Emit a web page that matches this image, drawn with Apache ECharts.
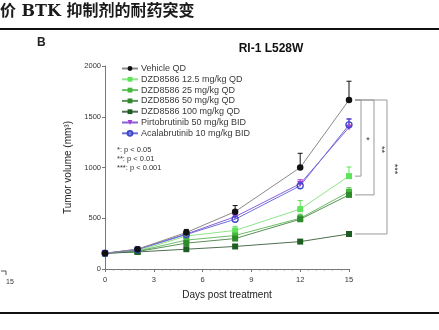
<!DOCTYPE html>
<html><head><meta charset="utf-8">
<script src="https://cdn.jsdelivr.net/npm/echarts@6/dist/echarts.min.js"></script>
<style>html,body{margin:0;padding:0;background:#fff}#c{width:439px;height:330px}</style>
</head><body><div id="c"></div>
<script>
const days = [0, 2, 5, 8, 12, 15];
const xTicks = [0, 3, 6, 9, 12, 15];
const yTicks = [0, 500, 1000, 1500, 2000];
const names = ['Vehicle QD', 'DZD8586 12.5 mg/kg QD', 'DZD8586 25 mg/kg QD', 'DZD8586 50 mg/kg QD', 'DZD8586 100 mg/kg QD', 'Pirtobrutinib 50 mg/kg BID', 'Acalabrutinib 10 mg/kg BID'];
const vehicle   = [155, 195, 360, 565, 1000, 1665];
const dzd12_5   = [155, 178, 325, 380, 590, 915];
const dzd25     = [155, 175, 285, 330, 500, 760];
const dzd50     = [155, 172, 255, 300, 490, 730];
const dzd100    = [155, 168, 195, 222, 270, 345];
const pirto     = [155, 195, 345, 515, 840, 1395];
const acala     = [155, 190, 340, 490, 820, 1420];
const errVehicle = [8, 12, 30, 60, 140, 185];
const err12_5    = [8, 10, 35, 40, 85, 90];
const err25      = [8, 10, 30, 35, 40, 40];
const err50      = [8, 10, 25, 30, 35, 35];
const err100     = [8, 8, 15, 15, 15, 15];
const errPirto   = [8, 10, 25, 30, 40, 80];
const errAcala   = [8, 10, 25, 30, 40, 60];
const sigLabels = ['*', '**', '***'];
const sigNotes = ['*: p < 0.05', '**: p < 0.01', '***: p < 0.001'];

const values = [vehicle, dzd12_5, dzd25, dzd50, dzd100, pirto, acala];
const errs = [errVehicle, err12_5, err25, err50, err100, errPirto, errAcala];
const colors = ['#111111', '#5fe35a', '#46b83d', '#2f8a2c', '#1f5e22', '#a43fd6', '#3d47c9'];
const lineColors = ['#8a8a8a', '#8fe58a', '#6cbf66', '#5c8f5a', '#4f6f50', '#8b5fd6', '#6a72d8'];
const symbols = ['circle', 'rect', 'rect', 'rect', 'rect', 'triangle', 'circle'];

const chart = echarts.init(document.getElementById('c'), null, {renderer: 'canvas'});
const series = [];
names.forEach((n, i) => {
  series.push({
    name: n, type: 'line', z: i === 0 ? 5 : 3, clip: false,
    data: days.map((d, k) => [d, values[i][k]]),
    symbol: symbols[i], symbolSize: i === 0 ? 6.5 : 6, symbolRotate: i === 5 ? 180 : 0,
    itemStyle: {color: i === 6 ? 'rgba(0,0,0,0)' : colors[i], borderColor: colors[i], borderWidth: i === 6 ? 1.3 : 0},
    lineStyle: {color: lineColors[i], width: 1},
    emphasis: {disabled: true}
  });
  series.push({
    type: 'custom', z: 2, silent: true,
    data: days.map((d, k) => [d, values[i][k], values[i][k] + errs[i][k]]),
    renderItem: (params, api) => {
      const p0 = api.coord([api.value(0), api.value(1)]);
      const p1 = api.coord([api.value(0), api.value(2)]);
      return {type: 'group', children: [
        {type: 'line', shape: {x1: p0[0], y1: p0[1], x2: p1[0], y2: p1[1]}, style: {stroke: colors[i], lineWidth: 1}},
        {type: 'line', shape: {x1: p1[0] - 2.5, y1: p1[1], x2: p1[0] + 2.5, y2: p1[1]}, style: {stroke: colors[i], lineWidth: 1}}
      ]};
    }
  });
});

const option = {
  animation: false,
  backgroundColor: '#fff',
  title: {text: 'RI-1 L528W', left: 266, top: 38, textAlign: 'center',
    textStyle: {fontFamily: 'Liberation Sans', fontWeight: 'bold', fontSize: 12, color: '#111'}},
  legend: {
    data: names, orient: 'vertical', left: 116, top: 59, itemGap: 1.8, itemWidth: 16, itemHeight: 6,
    textStyle: {fontFamily: 'Liberation Sans', fontSize: 9, color: '#3a3a3a', padding: [0, 0, 0, -2]},
    selectedMode: false
  },
  grid: {left: 105, right: 90, top: 66, bottom: 61},
  xAxis: {
    type: 'value', min: 0, max: 15, interval: 3,
    name: 'Days post treatment', nameLocation: 'middle', nameGap: 21,
    nameTextStyle: {fontFamily: 'Liberation Sans', fontSize: 10, color: '#222'},
    axisLine: {lineStyle: {color: '#777', width: 1}},
    axisTick: {show: true, length: 3, lineStyle: {color: '#777'}},
    minorTick: {show: true, splitNumber: 6, length: 1.5, lineStyle: {color: '#888'}},
    axisLabel: {fontFamily: 'Liberation Sans', fontSize: 7.5, color: '#333', margin: 7,
      formatter: v => xTicks.includes(v) ? String(v) : ''},
    splitLine: {show: false}
  },
  yAxis: {
    type: 'value', min: 0, max: 2000, interval: 500,
    name: 'Tumor volume (mm³)', nameLocation: 'middle', nameGap: 28,
    nameTextStyle: {fontFamily: 'Liberation Sans', fontSize: 10, color: '#222'},
    axisLine: {show: true, lineStyle: {color: '#777', width: 1}},
    axisTick: {show: true, length: 3, lineStyle: {color: '#777'}},
    axisLabel: {fontFamily: 'Liberation Sans', fontSize: 7.5, color: '#333', margin: 4,
      formatter: v => yTicks.includes(v) ? String(v) : ''},
    splitLine: {show: false}
  },
  series: series
};
chart.setOption(option);

// significance brackets from data coordinates
const lastDay = days[days.length - 1];
const topPt = chart.convertToPixel({gridIndex: 0}, [lastDay, vehicle[vehicle.length - 1]]);
const targets = [dzd12_5, dzd50, dzd100];
const bx = [361, 374, 387];
const g = [];
targets.forEach((t, j) => {
  const b = chart.convertToPixel({gridIndex: 0}, [lastDay, t[t.length - 1]]);
  const x0 = topPt[0] + 6;
  g.push({type: 'polyline', shape: {points: [[x0, topPt[1]], [bx[j], topPt[1]], [bx[j], b[1]], [x0, b[1]]]},
    style: {stroke: '#999', lineWidth: 1, fill: null}});
  g.push({type: 'text', x: bx[j] + 7, y: (topPt[1] + b[1]) / 2 + 2, rotation: j === 0 ? 0 : -Math.PI / 2,
    style: {text: sigLabels[j], fontSize: 9, fill: '#333', align: 'center', verticalAlign: 'middle', fontFamily: 'Liberation Sans'}});
});
sigNotes.forEach((s, k) => {
  g.push({type: 'text', x: 117, y: 146 + k * 9.2, style: {text: s, fontSize: 7.5, fill: '#333', fontFamily: 'Liberation Sans'}});
});
// header and framing
g.push({type: 'text', x: 0, y: 4, style: {text: '价 BTK 抑制剂的耐药突变', fontSize: 16, fontWeight: 'bold', fill: '#1a1a1a', fontFamily: 'DejaVu Serif, Noto Sans CJK SC'}});
g.push({type: 'rect', shape: {x: 0, y: 28, width: 439, height: 2}, style: {fill: '#111'}});
g.push({type: 'rect', shape: {x: 0, y: 312, width: 439, height: 2}, style: {fill: '#111'}});
g.push({type: 'text', x: 37, y: 37, style: {text: 'B', fontSize: 12, fontWeight: 'bold', fill: '#222', fontFamily: 'Liberation Sans'}});
g.push({type: 'text', x: 6, y: 279, style: {text: '15', fontSize: 7, fill: '#333', fontFamily: 'Liberation Sans'}});
g.push({type: 'polyline', shape: {points: [[1, 271], [6, 271], [6, 275]]}, style: {stroke: '#555', lineWidth: 1, fill: null}});
chart.setOption({graphic: g});
</script></body></html>
